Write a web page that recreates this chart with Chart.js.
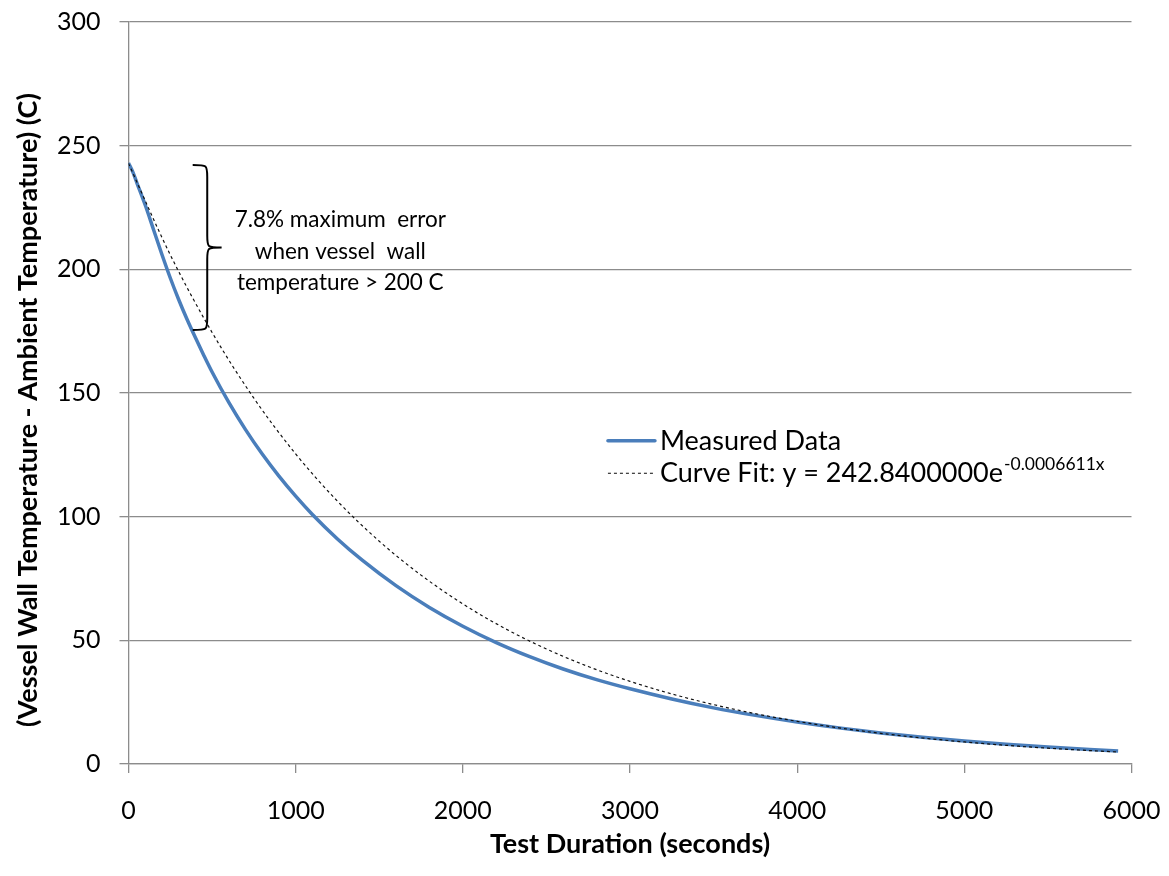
<!DOCTYPE html>
<html>
<head>
<meta charset="utf-8">
<script src="https://cdn.jsdelivr.net/npm/chart.js@4.4.1/dist/chart.umd.min.js"></script>
<style>
  html, body { margin: 0; padding: 0; background: #ffffff; }
  #wrap { width: 1169px; height: 876px; position: relative; }
</style>
</head>
<body>
<div id="wrap"><canvas id="chart" width="1169" height="876"></canvas></div>
<script>
// Measured cool-down of the vessel wall (temperature above ambient, C) vs. time (s)
const measuredTime = [0, 25, 50, 100, 150, 200, 250, 300, 350, 400, 450, 500, 600, 700, 800, 900,
  1000, 1100, 1250, 1400, 1600, 1800, 2000, 2200, 2400, 2600, 2800, 3000, 3250, 3500, 3750,
  4000, 4250, 4500, 4750, 5000, 5250, 5500, 5750, 5920];
const measuredTemp = [243.0, 239.5, 235.0, 226.0, 216.0, 206.0, 196.5, 187.8, 179.8, 172.4, 165.3,
  158.5, 146.2, 135.2, 125.3, 116.4, 108.3, 100.9, 91.0, 82.3, 72.1, 63.3, 55.7, 49.1, 43.4,
  38.4, 34.1, 30.4, 26.3, 22.7, 19.65, 16.95, 14.6, 12.55, 10.8, 9.3, 7.98, 6.85, 5.87, 5.28];

// Exponential fit y = 242.84 e^(-0.0006611 x), tabulated
const fitTime = [0, 250, 500, 750, 1000, 1250, 1500, 1750, 2000, 2250, 2500, 2750, 3000, 3250,
  3500, 3750, 4000, 4250, 4500, 4750, 5000, 5250, 5500, 5750, 5920];
const fitTemp = [242.84, 205.85, 174.49, 147.90, 125.37, 106.27, 90.08, 76.36, 64.73, 54.87,
  46.51, 39.42, 33.42, 28.33, 24.01, 20.35, 17.25, 14.62, 12.40, 10.51, 8.91, 7.55, 6.40, 5.43, 4.85];

// Axis tick values
const xTicks = [0, 1000, 2000, 3000, 4000, 5000, 6000];
const yTicks = [0, 50, 100, 150, 200, 250, 300];

// Labels
const seriesNames = ['Measured Data', 'Curve Fit: y = 242.8400000e'];
const fitExponent = '-0.0006611x';
const xTitle = 'Test Duration (seconds)';
const yTitle = '(Vessel Wall Temperature - Ambient Temperature) (C)';
const noteLines = ['7.8% maximum  error', 'when vessel  wall', 'temperature > 200 C'];

// Brace bracketing the early-time error band (data units)
const braceTop = 242.2, braceBottom = 175.5;
const braceEndX = 384, braceSpineX = 471, braceTipX = 557;
// Note text anchor (data units)
const noteX = 1267, noteY = [220, 207.2, 194.7];

const FONT = 'Lato, "Open Sans", sans-serif';
const BLUE = '#4a7ebb';
const GRID = '#8c8c8c';

function pts(xs, ys) { return xs.map((x, i) => ({ x: x, y: ys[i] })); }

const overlay = {
  id: 'overlay',
  afterDatasetsDraw(chart) {
    const { ctx, chartArea: a, scales: { x, y } } = chart;
    ctx.save();

    // curly brace
    const xe = x.getPixelForValue(braceEndX);
    const xs = x.getPixelForValue(braceSpineX);
    const xt = x.getPixelForValue(braceTipX);
    const yt = y.getPixelForValue(braceTop);
    const yb = y.getPixelForValue(braceBottom);
    const ym = (yt + yb) / 2;
    const r = 12;
    ctx.strokeStyle = '#000';
    ctx.lineWidth = 2;
    ctx.beginPath();
    ctx.moveTo(xe, yt);
    ctx.bezierCurveTo(xs, yt, xs, yt, xs, yt + r);
    ctx.lineTo(xs, ym - r);
    ctx.bezierCurveTo(xs, ym, xs, ym, xt, ym);
    ctx.bezierCurveTo(xs, ym, xs, ym, xs, ym + r);
    ctx.lineTo(xs, yb - r);
    ctx.bezierCurveTo(xs, yb, xs, yb, xe, yb);
    ctx.stroke();

    // note text
    ctx.fillStyle = '#000';
    ctx.font = '22.5px ' + FONT;
    ctx.textAlign = 'center';
    ctx.textBaseline = 'middle';
    const nx = x.getPixelForValue(noteX);
    noteLines.forEach((t, i) => ctx.fillText(t, nx, y.getPixelForValue(noteY[i])));

    // legend
    const lx0 = a.left + a.width * 0.478;
    const lx1 = lx0 + 47;
    const ly1 = a.top + a.height * 0.5643;
    const ly2 = ly1 + 32.6;
    ctx.lineCap = 'round';
    ctx.strokeStyle = BLUE;
    ctx.lineWidth = 3.5;
    ctx.beginPath(); ctx.moveTo(lx0, ly1); ctx.lineTo(lx1, ly1); ctx.stroke();
    ctx.lineCap = 'butt';
    ctx.strokeStyle = '#333';
    ctx.lineWidth = 1.2;
    ctx.setLineDash([3, 3]);
    ctx.beginPath(); ctx.moveTo(lx0, ly2); ctx.lineTo(lx1, ly2); ctx.stroke();
    ctx.setLineDash([]);

    ctx.textAlign = 'left';
    ctx.textBaseline = 'alphabetic';
    ctx.font = '27px ' + FONT;
    const tx = lx1 + 5;
    ctx.fillText(seriesNames[0], tx, ly1 + 9);
    ctx.fillText(seriesNames[1], tx, ly2 + 9);
    const w = ctx.measureText(seriesNames[1]).width;
    ctx.font = '17.5px ' + FONT;
    ctx.fillText(fitExponent, tx + w + 1, ly2 - 3);

    // vertical axis title
    ctx.font = 'bold 27px ' + FONT;
    ctx.textAlign = 'center';
    ctx.textBaseline = 'middle';
    ctx.translate(28, a.top + a.height * 0.523);
    ctx.rotate(-Math.PI / 2);
    ctx.fillText(yTitle, 0, 0);

    ctx.restore();
  }
};

new Chart(document.getElementById('chart'), {
  type: 'line',
  data: {
    datasets: [
      {
        label: seriesNames[0],
        data: pts(measuredTime, measuredTemp),
        borderColor: BLUE,
        borderWidth: 3.5,
        pointRadius: 0,
        cubicInterpolationMode: 'monotone',
        fill: false,
        order: 1
      },
      {
        label: seriesNames[1],
        data: pts(fitTime, fitTemp),
        borderColor: '#111',
        borderWidth: 1.2,
        borderDash: [3, 3],
        pointRadius: 0,
        cubicInterpolationMode: 'monotone',
        fill: false,
        order: 0
      }
    ]
  },
  options: {
    responsive: false,
    animation: false,
    layout: { padding: { left: 0, top: 22, right: 37.5, bottom: 0 } },
    plugins: { legend: { display: false }, tooltip: { enabled: false } },
    scales: {
      x: {
        type: 'linear',
        min: 0, max: 6000,
        afterBuildTicks: s => { s.ticks = xTicks.map(v => ({ value: v })); },
        afterFit: s => { s.height = 112; s.paddingLeft = 0; s.paddingRight = 0; },
        ticks: { color: '#000', font: { family: FONT, size: 25 }, padding: 23, maxRotation: 0,
                 callback: v => String(v) },
        grid: { drawOnChartArea: false, drawTicks: true, tickLength: 9, color: GRID, lineWidth: 1.3 },
        border: { color: GRID, width: 1.3 },
        title: { display: true, text: xTitle, color: '#000',
                 font: { family: FONT, size: 27, weight: 'bold' }, padding: { top: 0, bottom: 16 } }
      },
      y: {
        min: 0, max: 300,
        afterBuildTicks: s => { s.ticks = yTicks.map(v => ({ value: v })); },
        afterFit: s => { s.width = 128.5; s.paddingTop = 0; s.paddingBottom = 0; },
        ticks: { color: '#000', font: { family: FONT, size: 25 }, padding: 19,
                 callback: v => String(v) },
        grid: { color: GRID, lineWidth: 1.3, tickLength: 9 },
        border: { color: GRID, width: 1.3 },
        title: { display: false }
      }
    }
  },
  plugins: [overlay]
});
</script>
</body>
</html>
